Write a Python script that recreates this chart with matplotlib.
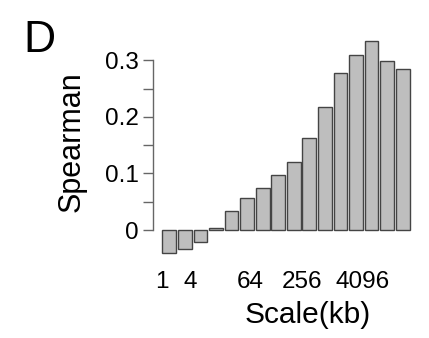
import matplotlib
matplotlib.use("Agg")
import matplotlib.pyplot as plt
import numpy as np

plt.rcParams["font.family"] = ["Liberation Sans", "DejaVu Sans"]

# --- data (16 scales) ---
spearman = [-0.041, -0.034, -0.021, 0.003, 0.033, 0.057, 0.074, 0.097,
            0.121, 0.163, 0.217, 0.277, 0.309, 0.334, 0.298, 0.284]
xtick_labels = ["1", "4", "64", "256", "4096"]
xtick_pos = [-0.49, 1.33, 5.18, 8.5, 12.45]   # where the labels sit under the bars
ytick_major = [0, 0.1, 0.2, 0.3]
ytick_labels = ["0", "0.1", "0.2", "0.3"]
ytick_minor = [0.05, 0.15, 0.25]

W, H = 429, 338
fig = plt.figure(figsize=(W / 100, H / 100), dpi=100)

# axes placed in pixels: y-axis at x=153, zero line at y=230
x0, x1 = 153, 412
y_bot, y_top = 255.5, 37.6
ax = fig.add_axes([x0 / W, 1 - y_bot / H, (x1 - x0) / W, (y_bot - y_top) / H])

pos = np.arange(len(spearman))
ax.bar(pos, spearman, width=0.88, color="#bebebe", edgecolor="#444444",
       linewidth=1.0, zorder=2)

ax.set_xlim(-1.05, 15.6)
ax.set_ylim(-0.045, 0.34)

for s in ("top", "right", "bottom"):
    ax.spines[s].set_visible(False)
ax.spines["left"].set_bounds(0, 0.3)
ax.spines["left"].set_color("#666666")
ax.spines["left"].set_linewidth(1.0)

ax.set_yticks(ytick_major)
ax.set_yticklabels(ytick_labels)
ax.set_yticks(ytick_minor, minor=True)
ax.tick_params(axis="y", which="both", length=7.2, width=1.0, color="#666666",
               pad=3, labelsize=17.5)
ax.set_xticks(xtick_pos)
ax.set_xticklabels(xtick_labels)
ax.tick_params(axis="x", length=0, pad=11.5, labelsize=17.5)

fig.text(71.7 / W, 1 - 141.7 / H, "Spearman", rotation=90, fontsize=22,
         ha="center", va="center")
fig.text(307.7 / W, 1 - 315 / H, "Scale(kb)", fontsize=21.5,
         ha="center", va="center")
fig.text(23 / W, 1 - 52 / H, "D", fontsize=32, ha="left", va="baseline")

fig.savefig("out.png", dpi=100)
